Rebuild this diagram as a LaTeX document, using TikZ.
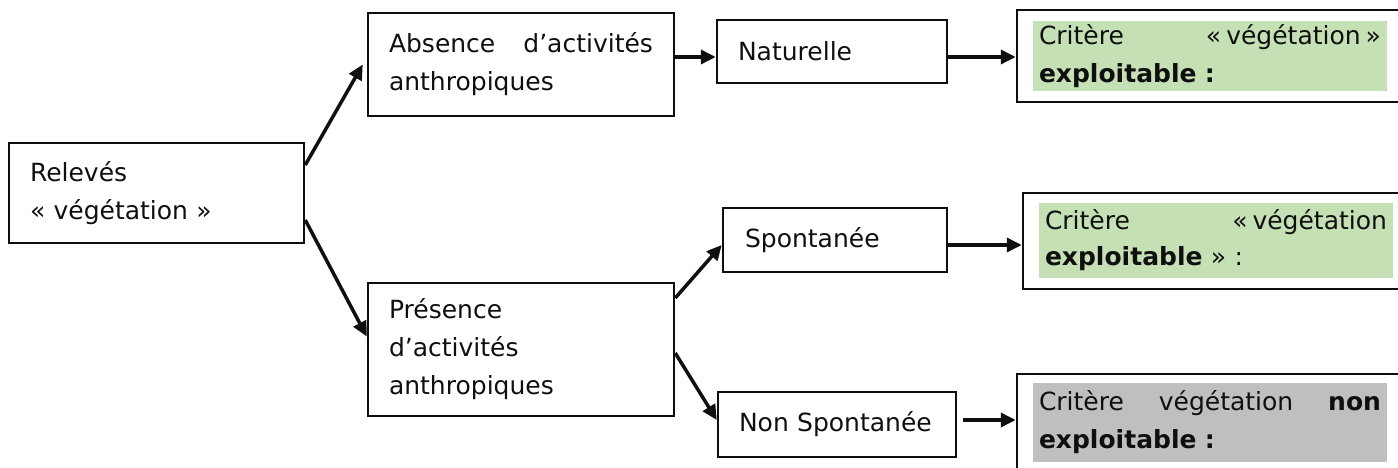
\documentclass[tikz,border=0pt]{standalone}
\usepackage{fontspec}
\setmainfont{DejaVu Sans}
\usetikzlibrary{arrows.meta,calc}
\definecolor{vert}{RGB}{197,224,180}
\definecolor{gris}{RGB}{191,191,191}
\definecolor{encre}{RGB}{15,15,15}
\begin{document}
\begin{tikzpicture}[x=1pt,y=-1pt,
  every node/.style={font=\fontsize{25}{38}\selectfont, text=encre},
  box/.style={draw=encre, line width=2.5pt, inner xsep=21pt, inner ysep=0pt, align=left, anchor=center},
  crit/.style={draw=encre, line width=2.5pt, inner sep=0pt, anchor=center},
  shadebox/.style={inner xsep=6pt, inner ysep=0pt, text width=342pt, align=left, anchor=center},
  arr/.style={line width=3.5pt, draw=encre, -{Triangle[length=15pt,width=14pt]}}]
\useasboundingbox (0,0) rectangle (1398,468);
\clip (0,0) rectangle (1398,468);

% left column
\node[box, text width=253pt, minimum height=100pt] (rel) at (156.5,193) {Relevés\\« végétation »};
\node[box, text width=264pt, minimum height=103pt] (abs) at (521,64.5) {Absence\hfill d’activités\\anthropiques};
\node[box, text width=264pt, minimum height=133pt] (pre) at (521,349.5) {Présence\\d’activités\\anthropiques};

% middle column
\node[box, text width=188pt, minimum height=63pt] (nat) at (832,51.5) {\mbox{Naturelle}};
\node[box, minimum height=64pt, inner xsep=22pt, text width=180pt] (spo) at (835,240) {\mbox{Spontanée}};
\node[box, text width=196pt, minimum height=65pt] (non) at (837,424.5) {\mbox{Non Spontanée}};

% right column: outlines
\node[crit, minimum width=403pt, minimum height=92pt] (c1) at (1218.5,56) {};
\node[crit, minimum width=397pt, minimum height=96pt] (c2) at (1221.5,241) {};
\node[crit, minimum width=403pt, minimum height=116pt] (c3) at (1218.5,432) {};

% right column: shaded texts
\node[shadebox, fill=vert, minimum height=70pt] (t1) at (1210,56)
  {Critère\hfill «\hspace{0.2em}végétation\hspace{0.2em}»\\\textbf{exploitable :}};
\node[shadebox, fill=vert, minimum height=75pt, font=\fontsize{25}{36}\selectfont] (t2) at (1216,240.5)
  {Critère\hfill «\hspace{0.2em}végétation\\\textbf{exploitable} » :};
\node[shadebox, fill=gris, minimum height=79pt] (t3) at (1210,422.5)
  {Critère\hfill végétation\hfill \textbf{non}\\\textbf{exploitable :}};

% connectors
\draw[arr] ([yshift=28pt]rel.east) -- ([xshift=-4pt]abs.west);
\draw[arr] ([yshift=-27pt]rel.east) -- ([yshift=13pt]pre.west);
\draw[arr] ([yshift=7.5pt]abs.east) -- ([yshift=-5.5pt]nat.west);
\draw[arr] ([yshift=-5.5pt]nat.east) -- ([yshift=-1pt]c1.west);
\draw[arr] ([yshift=51.5pt]pre.east) -- ([yshift=-5pt]spo.west);
\draw[arr] ([yshift=-3.5pt]pre.east) -- ([yshift=4.5pt]non.west);
\draw[arr] ([yshift=-5pt]spo.east) -- ([yshift=-4pt]c2.west);
\draw[arr] ([xshift=6pt,yshift=4.5pt]non.east) -- ([yshift=12pt]c3.west);
\end{tikzpicture}
\end{document}
